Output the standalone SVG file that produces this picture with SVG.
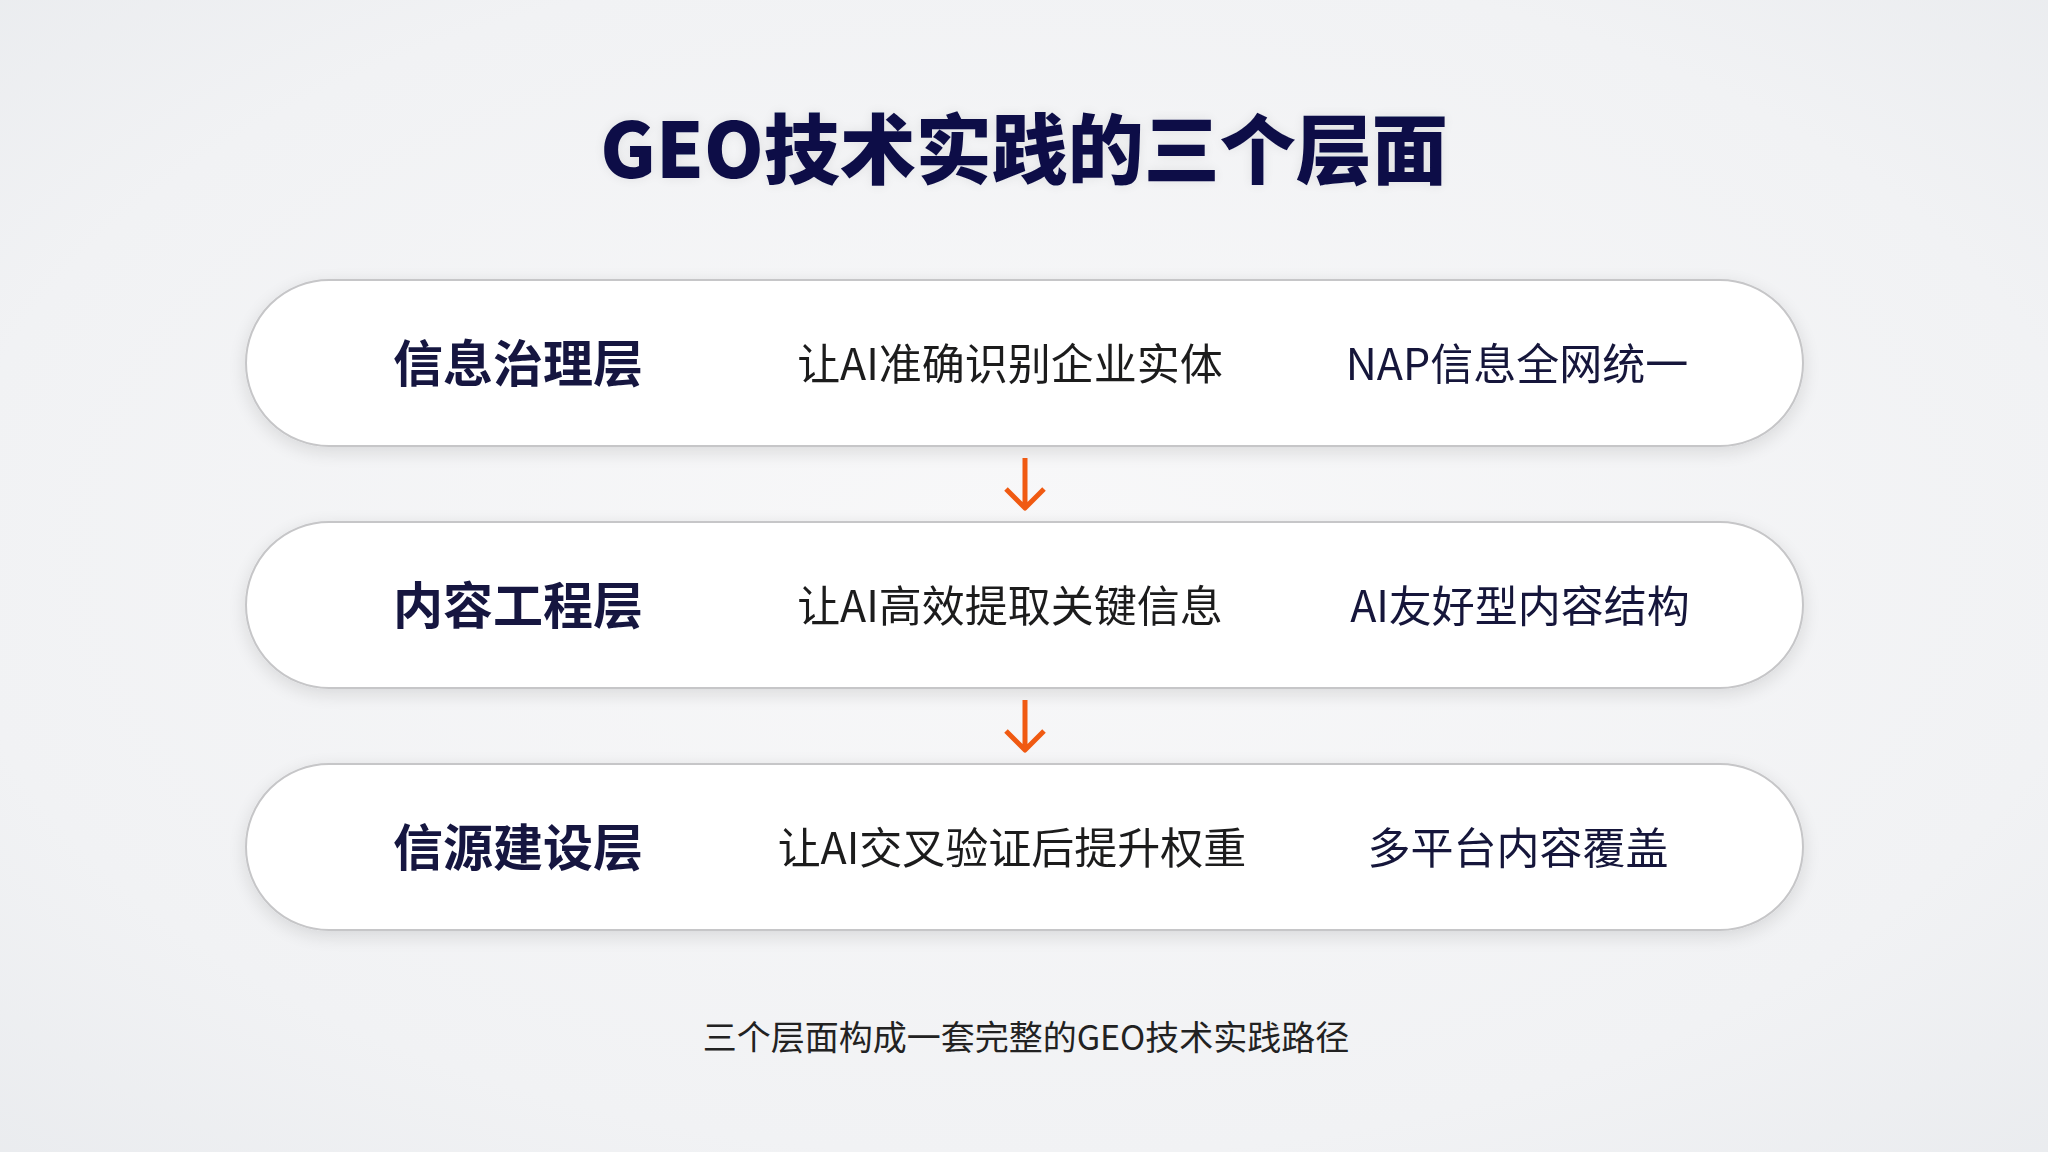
<svg xmlns="http://www.w3.org/2000/svg" width="2048" height="1152" viewBox="0 0 2048 1152">
  <defs>
    <radialGradient id="bg" cx="50%" cy="48%" r="75%">
      <stop offset="0" stop-color="#f8f8f9"/>
      <stop offset="0.7" stop-color="#f1f2f4"/>
      <stop offset="1" stop-color="#e9ebee"/>
    </radialGradient>
    <filter id="shadow" x="-10%" y="-40%" width="120%" height="180%">
      <feGaussianBlur in="SourceAlpha" stdDeviation="9"/>
      <feOffset dy="5" result="b"/>
      <feComponentTransfer><feFuncA type="linear" slope="0.12"/></feComponentTransfer>
      <feMerge><feMergeNode/><feMergeNode in="SourceGraphic"/></feMerge>
    </filter>
    <filter id="glow" x="-10%" y="-50%" width="120%" height="200%">
      <feGaussianBlur in="SourceAlpha" stdDeviation="6"/>
      <feComponentTransfer><feFuncA type="linear" slope="0.08"/></feComponentTransfer>
      <feMerge><feMergeNode/><feMergeNode in="SourceGraphic"/></feMerge>
    </filter>
  </defs>
  <style>
    .box { fill: #ffffff; stroke: #c6c6c8; stroke-width: 2; }
    .t { font-family: "Noto Sans CJK SC", "Noto Sans", sans-serif; text-anchor: middle; }
    .title { font-size: 76px; font-weight: 900; fill: #0e1147; }
    .layer { font-size: 50px; font-weight: 700; fill: #12143f; }
    .goal { font-size: 43px; font-weight: 400; fill: #1c1c1e; }
    .act { font-size: 43px; font-weight: 400; fill: #14173a; }
    .foot { font-size: 34px; font-weight: 400; fill: #222222; }
    .arrow { fill: none; stroke: #f05a12; stroke-width: 5; stroke-linejoin: round; }
  </style>
  <rect x="0" y="0" width="2048" height="1152" fill="url(#bg)"/>

  <g id="title" filter="url(#glow)">
    <text class="t title" x="1024" y="178">GEO技术实践的三个层面</text>
  </g>

  <g id="layer1" filter="url(#shadow)">
    <rect class="box" x="246" y="280" width="1557" height="166" rx="83" ry="83"/>
    <text class="t layer" x="518" y="382">信息治理层</text>
    <text class="t goal" x="1010" y="380">让AI准确识别企业实体</text>
    <text class="t act" x="1517" y="380">NAP信息全网统一</text>
  </g>

  <g id="layer2" filter="url(#shadow)">
    <rect class="box" x="246" y="522" width="1557" height="166" rx="83" ry="83"/>
    <text class="t layer" x="518" y="624">内容工程层</text>
    <text class="t goal" x="1010" y="622">让AI高效提取关键信息</text>
    <text class="t act" x="1520" y="622">AI友好型内容结构</text>
  </g>

  <g id="layer3" filter="url(#shadow)">
    <rect class="box" x="246" y="764" width="1557" height="166" rx="83" ry="83"/>
    <text class="t layer" x="518" y="866">信源建设层</text>
    <text class="t goal" x="1012" y="864">让AI交叉验证后提升权重</text>
    <text class="t act" x="1518" y="864">多平台内容覆盖</text>
  </g>

  <g id="connectors">
    <path class="arrow" d="M1025 458 L1025 508 M1006 489 L1025 508 L1044 489"/>
    <path class="arrow" d="M1025 700 L1025 750 M1006 731 L1025 750 L1044 731"/>
  </g>

  <g id="footer">
    <text class="t foot" x="1026" y="1050">三个层面构成一套完整的GEO技术实践路径</text>
  </g>
</svg>
